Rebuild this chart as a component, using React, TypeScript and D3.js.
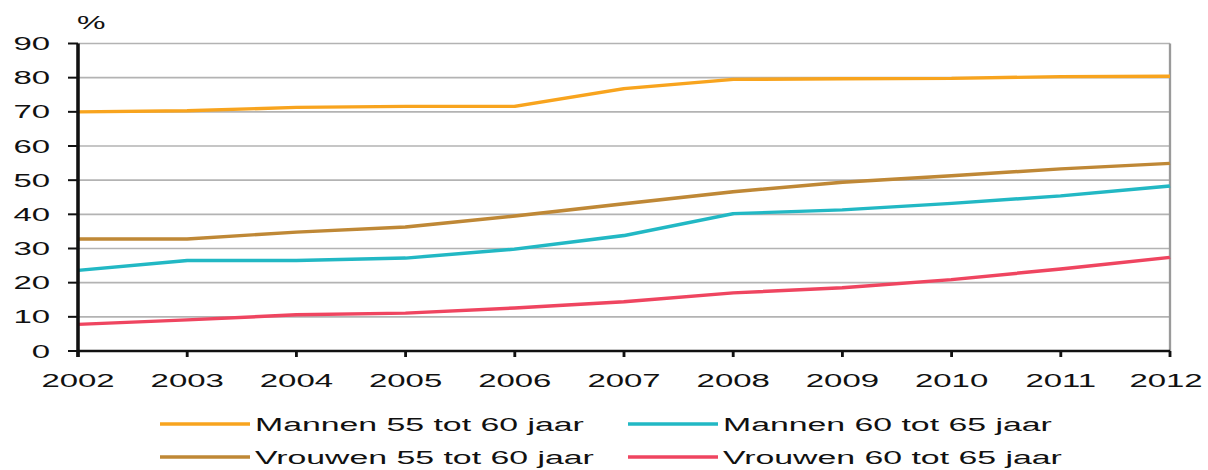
import { useEffect, useRef } from 'react';
import * as d3 from 'd3';

const years = [2002, 2003, 2004, 2005, 2006, 2007, 2008, 2009, 2010, 2011, 2012];
const yTicks = [0, 10, 20, 30, 40, 50, 60, 70, 80, 90];

const mannen5560 = [70, 70.3, 71.3, 71.6, 71.6, 76.8, 79.5, 79.7, 79.8, 80.3, 80.4];
const mannen6065 = [23.6, 26.5, 26.5, 27.2, 29.8, 33.8, 40.2, 41.3, 43.2, 45.4, 48.3];
const vrouwen5560 = [32.8, 32.8, 34.8, 36.3, 39.5, 43.1, 46.6, 49.4, 51.3, 53.3, 54.9];
const vrouwen6065 = [7.8, 9.1, 10.6, 11.1, 12.6, 14.4, 17, 18.5, 20.9, 24.0, 27.4];

const seriesNames = [
  'Mannen 55 tot 60 jaar',
  'Mannen 60 tot 65 jaar',
  'Vrouwen 55 tot 60 jaar',
  'Vrouwen 60 tot 65 jaar',
];
const seriesValues = [mannen5560, mannen6065, vrouwen5560, vrouwen6065];
const seriesColors = ['#F8A41E', '#22B8C4', '#BF8836', '#EF4560'];

export default function App() {
  const svgRef = useRef<SVGSVGElement>(null);

  useEffect(() => {
    // the reference is stretched wide, so draw narrow and let the viewBox stretch it
    const sx = 1.78;
    const W = 1208 / sx;
    const H = 470;
    const px = (v: number) => v / sx; // screen x -> viewBox x

    const svg = d3.select(svgRef.current);
    svg.selectAll('*').remove();

    const x = d3.scaleLinear().domain([2002, 2012]).range([px(78), px(1170)]);
    const y = d3.scaleLinear().domain([0, 90]).range([351, 43.5]);
    const font = '"Liberation Sans", Arial, sans-serif';

    // gridlines
    svg.append('g')
      .selectAll('line')
      .data(yTicks.filter(d => d > 0))
      .join('line')
      .attr('x1', x(2002)).attr('x2', x(2012))
      .attr('y1', d => y(d)).attr('y2', d => y(d))
      .attr('stroke', '#B3B3B3')
      .attr('stroke-width', 1.7);

    // right border
    svg.append('line')
      .attr('x1', x(2012)).attr('x2', x(2012))
      .attr('y1', y(90)).attr('y2', y(0))
      .attr('stroke', '#9A9A9A')
      .attr('stroke-width', 1.3);

    // series
    const line = d3.line<number>()
      .x((_, i) => x(years[i]))
      .y(d => y(d));

    seriesValues.forEach((vals, i) => {
      svg.append('path')
        .datum(vals)
        .attr('fill', 'none')
        .attr('stroke', seriesColors[i])
        .attr('stroke-width', 3.4)
        .attr('d', line);
    });

    // y axis
    svg.append('line')
      .attr('x1', x(2002)).attr('x2', x(2002))
      .attr('y1', y(90)).attr('y2', y(0) + 6)
      .attr('stroke', '#111').attr('stroke-width', 2);
    svg.append('g')
      .selectAll('line')
      .data(yTicks)
      .join('line')
      .attr('x1', px(68)).attr('x2', x(2002))
      .attr('y1', d => y(d)).attr('y2', d => y(d))
      .attr('stroke', '#111').attr('stroke-width', 2);
    svg.append('g')
      .selectAll('text')
      .data(yTicks)
      .join('text')
      .attr('x', px(50))
      .attr('y', d => y(d))
      .attr('dy', '0.36em')
      .attr('text-anchor', 'end')
      .attr('font-family', font)
      .attr('font-size', 18.5)
      .attr('fill', '#111')
      .text(d => d);

    svg.append('text')
      .attr('x', px(77))
      .attr('y', 29)
      .attr('font-family', font)
      .attr('font-size', 18)
      .attr('fill', '#111')
      .text('%');

    // x axis
    svg.append('line')
      .attr('x1', x(2002)).attr('x2', x(2012))
      .attr('y1', y(0)).attr('y2', y(0))
      .attr('stroke', '#111').attr('stroke-width', 2.4);
    svg.append('g')
      .selectAll('line')
      .data(years)
      .join('line')
      .attr('x1', d => x(d)).attr('x2', d => x(d))
      .attr('y1', y(0)).attr('y2', y(0) + 6)
      .attr('stroke', '#111').attr('stroke-width', 1.6);
    svg.append('g')
      .selectAll('text')
      .data(years)
      .join('text')
      .attr('x', (d, i) => x(d) - (i === years.length - 1 ? px(4) : 0))
      .attr('y', 387)
      .attr('text-anchor', 'middle')
      .attr('font-family', font)
      .attr('font-size', 18.5)
      .attr('fill', '#111')
      .text(d => d);

    // legend, two columns
    const legendX = [px(160), px(628)];
    const legendY = [424, 457];
    seriesNames.forEach((name, i) => {
      const lx = legendX[i % 2];
      const ly = legendY[Math.floor(i / 2)];
      svg.append('line')
        .attr('x1', lx).attr('x2', lx + px(90))
        .attr('y1', ly).attr('y2', ly)
        .attr('stroke', seriesColors[i])
        .attr('stroke-width', 3.4);
      svg.append('text')
        .attr('x', lx + px(95))
        .attr('y', ly)
        .attr('dy', '0.36em')
        .attr('font-family', font)
        .attr('font-size', 19)
        .attr('fill', '#111')
        .text(name);
    });

    svg.attr('viewBox', `0 0 ${W} ${H}`);
  }, []);

  return (
    <svg
      ref={svgRef}
      width={1208}
      height={470}
      preserveAspectRatio="none"
      style={{ position: 'absolute', left: 0, top: 0, display: 'block', background: '#fff' }}
    />
  );
}
